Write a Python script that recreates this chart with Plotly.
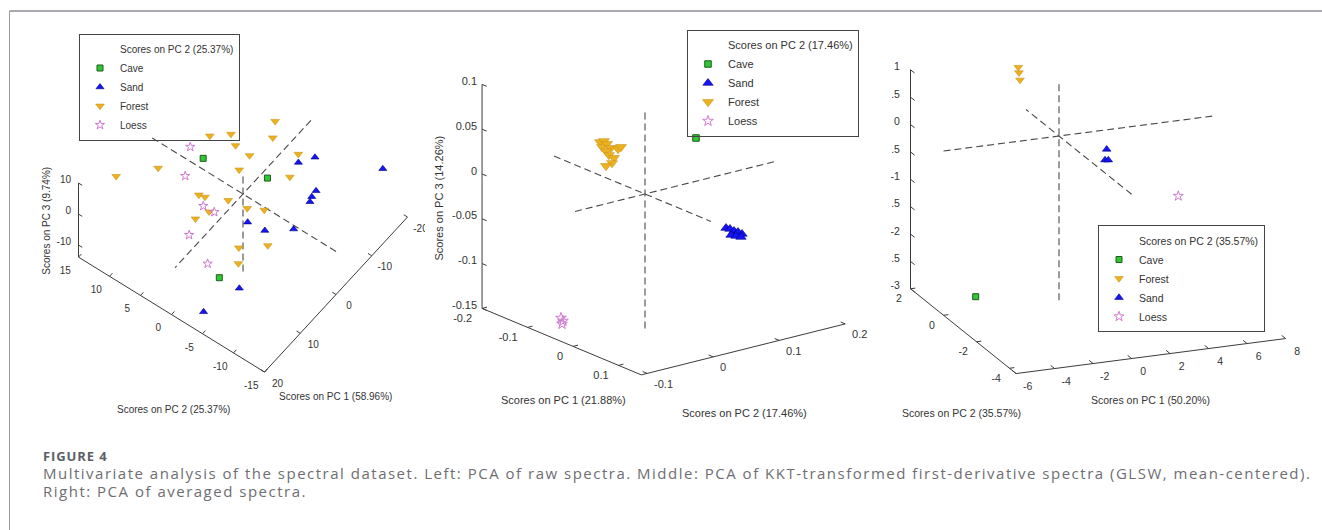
import plotly.graph_objects as go

W, H = 1322, 530

# ------------------------------------------------------------------
# Data: scores (PC1, PC2, PC3)
# ------------------------------------------------------------------
# Left: PCA of raw spectra
RAW_CAVE = [(-1.0, 7, 1.6), (-5.1, -1, 0.0), (15.3, -5, -1.7)]
RAW_SAND = [(-13.2, -4, 0.3), (-10.3, -3, 1.0), (-18.3, -12, 0.1), (-8.3, -7, -0.7),
            (-7.1, -7, -1.1), (-6.6, -7, -2.1), (3.9, -3, -0.5), (4.3, -6, 1.0),
            (-0.3, -8, -1.8), (14.9, -8, -1.9), (19.7, -5, -7.2)]
RAW_FOREST = [(11.2, 14, 2.4), (6.4, 10, 4.0), (-4.6, 8, 3.1), (-5.3, 5, 6.5),
              (-6.6, 5, 1.2), (-14.2, 3, 2.0), (-11.8, 2, 0.9), (-5.3, 2, 3.3),
              (-12.0, -2, 0.3), (-2.4, 2, 2.3), (-7.9, -3, -0.7), (5.4, 4, 1.5),
              (3.7, 4, -1.3), (2.4, 1, -0.3), (2.3, -2, 0.7), (1.0, -4, 1.0),
              (6.0, 2, -0.7), (8.1, 3, -1.6), (8.1, -4, -2.3), (5.2, -7, -1.5),
              (11.7, -6, -0.4)]
RAW_LOESS = [(-2.6, 10, -0.4), (2.3, 8, -1.2), (5.9, 3, -0.2), (6.3, 1, 0.8),
             (11.6, 2, -1.2), (15.1, -3, 0.1)]
RAW_VAR = ["58.96%", "25.37%", "9.74%"]

# Middle: PCA of KKT-transformed first-derivative spectra
KKT_CAVE = [(-0.100, 0.1462, 0.0144)]
KKT_SAND = [(0.100, 0.0538, -0.0267), (0.100, 0.0598, -0.0289), (0.105, 0.0625, -0.0305),
            (0.100, 0.0720, -0.0345), (0.095, 0.0815, -0.0395), (0.110, 0.0545, -0.0325),
            (0.105, 0.0655, -0.0367), (0.100, 0.0765, -0.0409)]
KKT_FOREST = [(-0.050, -0.0337, 0.0536), (-0.055, -0.0242, 0.0519), (-0.045, -0.0341, 0.0492),
              (-0.050, -0.0231, 0.0495), (-0.060, -0.0102, 0.0405), (-0.050, -0.0246, 0.0419),
              (-0.060, 0.0005, 0.0374), (-0.055, 0.0016, 0.0405), (-0.050, -0.0201, 0.0366),
              (-0.045, -0.0159, 0.0336), (-0.040, -0.0224, 0.0302), (-0.040, -0.0315, 0.0286)]
KKT_LOESS = [(-0.050, -0.0928, -0.1319), (-0.050, -0.0898, -0.1358), (-0.045, -0.0947, -0.1372)]
KKT_VAR = ["21.88%", "17.46%", "14.26%"]

# Right: PCA of averaged spectra
AVG_CAVE = [(-4.0, 0.382, -2.845)]
AVG_FOREST = [(-0.70, 1.650, 0.887), (-0.70, 1.608, 0.799), (-0.60, 1.664, 0.647)]
AVG_SAND = [(4.0, 1.776, -0.855), (4.0, 1.879, -1.076), (4.1, 1.795, -1.060)]
AVG_LOESS = [(6.0, -0.230, -1.314)]
AVG_VAR = ["50.20%", "35.57%", ""]

# Axis limits (PC1, PC2, PC3) and origin-line extents
RAW_LIM = [(-20, 20), (-15, 15), (-13.9, 10)]
KKT_LIM = [(-0.2, 0.15), (-0.109, 0.2), (-0.15, 0.1)]
AVG_LIM = [(-6, 8), (-4.4, 2), (-3, 1)]
RAW_ZERO = [(-19, 19), (-15, 15), (-25, 7)]
KKT_ZERO = [(-0.2, 0.145), (-0.106, 0.2), (-0.15, 0.094)]
AVG_ZERO = [(-6, 8), (-4.4, 2), (-3, 1)]

# Tick values
RAW_PC1_TICKS = [20, 10, 0, -10, -20]
RAW_PC2_TICKS = [15, 10, 5, 0, -5, -10, -15]
RAW_PC3_TICKS = [10, 0, -10]
KKT_PC1_TICKS = [-0.2, -0.1, 0, 0.1]
KKT_PC2_TICKS = [-0.1, 0, 0.1, 0.2]
KKT_PC3_TICKS = [0.1, 0.05, 0, -0.05, -0.1, -0.15]
AVG_PC1_TICKS = [-6, -4, -2, 0, 2, 4, 6, 8]
AVG_PC2_TICKS = [2, 0, -2, -4]
AVG_PC3_TICKS = [1, 0.5, 0, -0.5, -1, -1.5, -2, -2.5, -3]

CAPTION_HEAD = "FIGURE 4"
CAPTION_L1 = ("Multivariate analysis of the spectral dataset. Left: PCA of raw spectra. "
              "Middle: PCA of KKT-transformed first-derivative spectra (GLSW, mean-centered).")
CAPTION_L2 = "Right: PCA of averaged spectra."

# ------------------------------------------------------------------
# Styles
# ------------------------------------------------------------------
STYLE = {
    "Cave": dict(symbol="square", color="#33c533", line=dict(color="#1d5e1d", width=1)),
    "Sand": dict(symbol="triangle-up", color="#1414f5", line=dict(color="#00007a", width=0.6)),
    "Forest": dict(symbol="triangle-down", color="#EDB120", line=dict(color="#c99419", width=0.6)),
    "Loess": dict(symbol="star-open", color="#d27ad2", line=dict(width=1)),
}
TXT = "#333333"
FONT = "Liberation Sans, Arial, sans-serif"

PANELS = [
    dict(lim=RAW_LIM, zero=RAW_ZERO, var=RAW_VAR, ticks=(RAW_PC1_TICKS, RAW_PC2_TICKS, RAW_PC3_TICKS),
         groups=[("Cave", RAW_CAVE), ("Sand", RAW_SAND), ("Forest", RAW_FOREST), ("Loess", RAW_LOESS)],
         sizes={"Cave": 6, "Sand": 7, "Forest": 7.5, "Loess": 7},
         px=(10, 425), cx=243, cy=194, e1=(-3.575, 3.875), e2=(-6.2, -3.83), ez=-3.1,
         corner=(1, 1), pc2_axis_at=1, fs=10,
         tdir=((0, 0.6, 0), (-0.8, 0, 0), (0, -0.6, 0)),
         loff=((0, -2.1, -1.3), (3.7, 0, 0), (0, 1.2, -0.8)),
         lpos=("middle center", "middle center", "middle left"),
         legend=dict(x=79, y=87),
         t1=(335.5, 397), t2=(173, 409), t3=(45.7, 221)),
    dict(lim=KKT_LIM, zero=KKT_ZERO, var=KKT_VAR, ticks=(KKT_PC1_TICKS, KKT_PC2_TICKS, KKT_PC3_TICKS),
         groups=[("Cave", KKT_CAVE), ("Sand", KKT_SAND), ("Forest", KKT_FOREST), ("Loess", KKT_LOESS)],
         sizes={"Cave": 6.5, "Sand": 9, "Forest": 9.5, "Loess": 8},
         px=(425, 888), cx=645, cy=194, e1=(455, 190), e2=(660, -165), ez=-896,
         corner=(0, 0), pc2_axis_at=1, fs=11,
         tdir=((0, 0.0075, 0), (-0.01, 0, 0), (0.01, 0, 0)),
         loff=((0, -0.015, -0.0095), (0.015, 0, -0.0095), (-0.011, 0, 0)),
         lpos=("middle left", "middle right", "middle left"),
         legend=dict(x=687, y=83),
         t1=(563.8, 400), t2=(744.7, 412.7), t3=(439, 198.5)),
    dict(lim=AVG_LIM, zero=AVG_ZERO, var=AVG_VAR, ticks=(AVG_PC1_TICKS, AVG_PC2_TICKS, AVG_PC3_TICKS),
         groups=[("Cave", AVG_CAVE), ("Forest", AVG_FOREST), ("Sand", AVG_SAND), ("Loess", AVG_LOESS)],
         sizes={"Cave": 6, "Sand": 7.5, "Forest": 7.5, "Loess": 7.5},
         px=(891, 1322), cx=1059, cy=136, e1=(19.25, -2.5), e2=(-16.5, -13.25), ez=-54.75,
         corner=(0, 1), pc2_axis_at=0, fs=10.5,
         tdir=((0, 0.24, 0), (0.25, 0, 0), (0, -0.25, 0)),
         loff=((0, -0.7, -0.09), (-0.45, 0, -0.18), (-0.55, 0, 0.06)),
         lpos=("middle center", "middle left", "middle left"),
         legend=dict(x=1098, y=278.5),
         t1=(1150.8, 400), t2=(961.8, 413.3), t3=None),
]

Y_TOP, Y_BOT = 15, 430


def proj(P, p1, p2, p3):
    x = P["cx"] + P["e1"][0] * p1 + P["e2"][0] * p2
    y = P["cy"] + P["e1"][1] * p1 + P["e2"][1] * p2 + P["ez"] * p3
    return x, y


def fmt(v):
    return "%g" % v


fig = go.Figure()
layout_axes = {}
annotations = []

for i, P in enumerate(PANELS):
    n = "" if i == 0 else str(i + 1)
    xa, ya = "x" + n, "y" + n
    leg = "legend" + n
    l1, l2, l3 = P["lim"]
    common = dict(xaxis=xa, yaxis=ya, hoverinfo="skip", showlegend=False)

    # dashed origin lines
    xs, ys = [], []
    z1, z2, z3 = P["zero"]
    for a, b in [((z1[0], 0, 0), (z1[1], 0, 0)), ((0, z2[0], 0), (0, z2[1], 0)),
                 ((0, 0, z3[0]), (0, 0, z3[1]))]:
        for pt in (a, b):
            x, y = proj(P, *pt)
            xs.append(x)
            ys.append(y)
        xs.append(None)
        ys.append(None)
    fig.add_trace(go.Scatter(x=xs, y=ys, mode="lines",
                             line=dict(color="#4a4a4a", width=1.1, dash="7px,4px"), **common))

    # axis box: vertical PC3 axis at the back corner + two floor edges
    c1 = l1[P["corner"][0]]
    c2 = l2[P["corner"][1]]
    pc2_fixed = l1[P["pc2_axis_at"]]          # PC1 value where the PC2 axis lies
    pc1_fixed = l2[0]                         # PC2 value where the PC1 axis lies
    if P["corner"] == (0, 0):
        floor = [(c1, c2), (l1[1], l2[0]), (l1[1], l2[1])]
    elif P["corner"] == (1, 1):
        floor = [(c1, c2), (l1[1], l2[0]), (l1[0], l2[0])]
    else:
        floor = [(c1, c2), (l1[0], l2[0]), (l1[1], l2[0])]
    pts = [(c1, c2, l3[1])] + [(a, b, l3[0]) for a, b in floor]
    bx, by = zip(*[proj(P, *p) for p in pts])
    fig.add_trace(go.Scatter(x=list(bx), y=list(by), mode="lines",
                             line=dict(color="#3c3c3c", width=1), **common))

    # ticks and tick labels
    t1s, t2s, t3s = P["ticks"]
    bases = [
        [(t, pc1_fixed, l3[0]) for t in t1s],
        [(pc2_fixed, t, l3[0]) for t in t2s],
        [(c1, c2, t) for t in t3s],
    ]
    vals = [t1s, t2s, t3s]
    tx, ty = [], []
    for k in range(3):
        d = P["tdir"][k]
        o = P["loff"][k]
        lx, ly = [], []
        for b in bases[k]:
            x0, y0 = proj(P, *b)
            x1, y1 = proj(P, b[0] + d[0], b[1] + d[1], b[2] + d[2])
            tx += [x0, x1, None]
            ty += [y0, y1, None]
            x2, y2 = proj(P, b[0] + o[0], b[1] + o[1], b[2] + o[2])
            lx.append(x2)
            ly.append(y2)
        fig.add_trace(go.Scatter(x=lx, y=ly, mode="text", text=[fmt(v) for v in vals[k]],
                                 textposition=P["lpos"][k], cliponaxis=True,
                                 textfont=dict(family=FONT, size=P["fs"], color=TXT), **common))
    fig.add_trace(go.Scatter(x=tx, y=ty, mode="lines",
                             line=dict(color="#3c3c3c", width=1), **common))

    # legend header entry (MATLAB-style entry without symbol)
    fig.add_trace(go.Scatter(x=[None], y=[None], mode="markers",
                             marker=dict(size=1, color="rgba(0,0,0,0)"),
                             name="Scores on PC 2 (%s)" % P["var"][1], legend=leg,
                             xaxis=xa, yaxis=ya, hoverinfo="skip", showlegend=True))
    # scores
    for g, pts3 in P["groups"]:
        gx, gy = zip(*[proj(P, *p) for p in pts3])
        st = STYLE[g]
        fig.add_trace(go.Scatter(
            x=list(gx), y=list(gy), mode="markers", name=g, legend=leg,
            marker=dict(symbol=st["symbol"], color=st["color"], size=P["sizes"][g], line=st["line"]),
            xaxis=xa, yaxis=ya, hoverinfo="skip", showlegend=True))

    layout_axes["xaxis" + n] = dict(domain=[P["px"][0] / W, P["px"][1] / W], range=list(P["px"]),
                                    visible=False, fixedrange=True, anchor=ya)
    layout_axes["yaxis" + n] = dict(domain=[1 - Y_BOT / H, 1 - Y_TOP / H], range=[Y_BOT, Y_TOP],
                                    visible=False, fixedrange=True, anchor=xa)
    layout_axes[leg] = dict(x=P["legend"]["x"] / W, y=1 - P["legend"]["y"] / H,
                            xanchor="left", yanchor="middle",
                            bgcolor="rgba(255,255,255,0)", bordercolor="#444444", borderwidth=1,
                            font=dict(family=FONT, size=P["fs"], color=TXT),
                            tracegroupgap=0, traceorder="normal")

    # axis titles
    tf = dict(family=FONT, size=P["fs"], color=TXT)
    annotations.append(dict(x=P["t1"][0] / W, y=1 - P["t1"][1] / H, xref="paper", yref="paper",
                            text="Scores on PC 1 (%s)" % P["var"][0], showarrow=False,
                            xanchor="center", yanchor="middle", font=tf))
    annotations.append(dict(x=P["t2"][0] / W, y=1 - P["t2"][1] / H, xref="paper", yref="paper",
                            text="Scores on PC 2 (%s)" % P["var"][1], showarrow=False,
                            xanchor="center", yanchor="middle", font=tf))
    if P["t3"] is not None:
        annotations.append(dict(x=P["t3"][0] / W, y=1 - P["t3"][1] / H, xref="paper", yref="paper",
                                text="Scores on PC 3 (%s)" % P["var"][2], showarrow=False,
                                textangle=-90, xanchor="center", yanchor="middle", font=tf))

# caption (one multi-line text block)
caption = ('<span style="font-size:13px;font-weight:bold;color:#5b5f67;letter-spacing:0.9px">%s</span><br>'
           '<span style="font-size:15px;letter-spacing:1.5px">%s</span><br>'
           '<span style="font-size:15px;letter-spacing:1.5px">%s</span>') % (CAPTION_HEAD, CAPTION_L1, CAPTION_L2)
annotations.append(dict(x=41 / W, y=1 - 474 / H, xref="paper", yref="paper", showarrow=False,
                        xanchor="left", yanchor="middle", align="left", text=caption,
                        font=dict(family="Open Sans", size=14, color="#6e6e72")))

shapes = [
    dict(type="line", xref="paper", yref="paper", x0=9.5 / W, x1=1.0, y0=1 - 11 / H, y1=1 - 11 / H,
         line=dict(color="#8d8d95", width=1.5)),
    dict(type="line", xref="paper", yref="paper", x0=9.5 / W, x1=9.5 / W, y0=0, y1=1 - 11 / H,
         line=dict(color="#9a9a9e", width=1)),
]

fig.update_layout(
    width=W, height=H, margin=dict(l=0, r=0, t=0, b=0),
    paper_bgcolor="white", plot_bgcolor="white",
    font=dict(family=FONT, color=TXT),
    annotations=annotations, shapes=shapes, showlegend=True,
    **layout_axes,
)

fig.write_html("out.html", config={"displayModeBar": False},
               post_script="document.body.style.margin='0px';document.body.style.overflow='hidden';")
